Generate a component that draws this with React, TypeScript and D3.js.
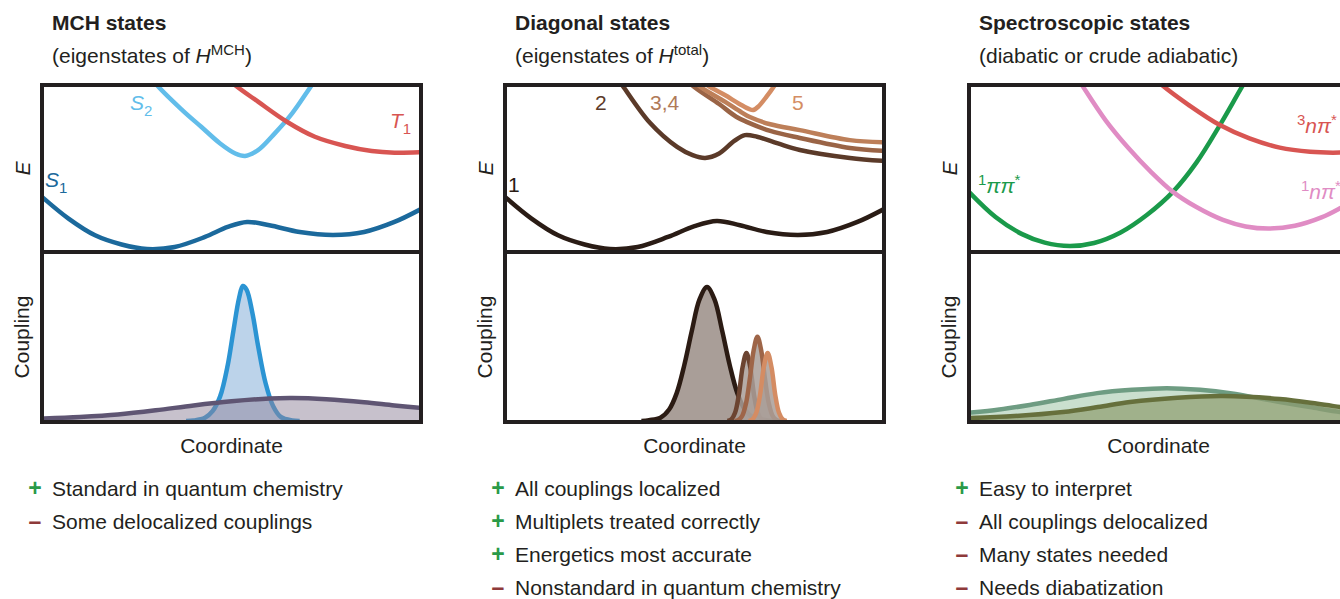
import React from "react";
import * as d3 from "d3";

type Pt = [number, number];

// panel frame (x of left border, shared width, row edges)
const PANEL_X = [42, 505, 969];
const PANEL_W = 379;
const TOP = 85;
const MID = 252;
const BOT = 422;
const FONT = "'Liberation Sans', Arial, Helvetica, sans-serif";

// ---------- MCH states ----------
const mchS1: Pt[] = [[0, 0.33], [0.07, 0.2], [0.14, 0.1], [0.21, 0.045], [0.277, 0.018], [0.35, 0.03], [0.43, 0.09], [0.49, 0.15], [0.541, 0.18], [0.6, 0.16], [0.68, 0.12], [0.768, 0.102], [0.85, 0.12], [0.93, 0.18], [1, 0.257]];
const mchS2: Pt[] = [[0.27, 1.1], [0.303, 1.0], [0.37, 0.85], [0.42, 0.75], [0.47, 0.65], [0.51, 0.59], [0.536, 0.575], [0.57, 0.61], [0.61, 0.7], [0.66, 0.83], [0.712, 1.0], [0.74, 1.09]];
const mchT1: Pt[] = [[0.48, 1.06], [0.509, 1.0], [0.57, 0.9], [0.646, 0.78], [0.72, 0.69], [0.8, 0.635], [0.87, 0.605], [0.93, 0.595], [1, 0.598]];
const mchCoupS1S2: Pt[] = [[0.38, 0], [0.4, 0.003], [0.43, 0.02], [0.45, 0.06], [0.47, 0.15], [0.49, 0.34], [0.505, 0.55], [0.52, 0.75], [0.53, 0.823], [0.54, 0.8], [0.555, 0.66], [0.57, 0.46], [0.59, 0.23], [0.61, 0.09], [0.63, 0.025], [0.66, 0.003], [0.68, 0]];
const mchCoupS1T1: Pt[] = [[0, 0.015], [0.1, 0.025], [0.2, 0.04], [0.3, 0.065], [0.4, 0.095], [0.5, 0.12], [0.6, 0.137], [0.66, 0.14], [0.75, 0.133], [0.85, 0.115], [0.93, 0.095], [1, 0.08]];

// ---------- Diagonal states ----------
const diag1: Pt[] = [[0, 0.33], [0.07, 0.2], [0.14, 0.1], [0.21, 0.045], [0.277, 0.018], [0.35, 0.03], [0.43, 0.09], [0.5, 0.155], [0.559, 0.186], [0.62, 0.16], [0.69, 0.12], [0.773, 0.102], [0.85, 0.12], [0.93, 0.18], [1, 0.257]];
const diag2: Pt[] = [[0.29, 1.06], [0.309, 1.0], [0.383, 0.772], [0.454, 0.629], [0.495, 0.58], [0.528, 0.563], [0.565, 0.59], [0.605, 0.665], [0.633, 0.7], [0.665, 0.69], [0.72, 0.65], [0.778, 0.611], [0.91, 0.563], [1, 0.545]];
const diag3: Pt[] = [[0.47, 1.06], [0.493, 1.0], [0.565, 0.886], [0.61, 0.81], [0.639, 0.778], [0.7, 0.725], [0.778, 0.683], [0.91, 0.623], [1, 0.605]];
const diag4: Pt[] = [[0.485, 1.06], [0.509, 1.0], [0.58, 0.9], [0.625, 0.835], [0.646, 0.808], [0.7, 0.765], [0.778, 0.73], [0.91, 0.67], [1, 0.657]];
const diag5: Pt[] = [[0.515, 1.04], [0.533, 1.0], [0.58, 0.94], [0.62, 0.885], [0.645, 0.855], [0.655, 0.85], [0.668, 0.87], [0.69, 0.93], [0.712, 1.0], [0.72, 1.03]];
const diagCoup12: Pt[] = [[0.36, 0], [0.38, 0.005], [0.41, 0.02], [0.433, 0.07], [0.453, 0.17], [0.473, 0.34], [0.493, 0.55], [0.513, 0.74], [0.533, 0.817], [0.553, 0.74], [0.573, 0.55], [0.593, 0.34], [0.613, 0.17], [0.633, 0.07], [0.656, 0.02], [0.69, 0.005], [0.71, 0]];
const diagCoup23: Pt[] = [[0.587, 0], [0.597, 0.01], [0.607, 0.05], [0.617, 0.16], [0.627, 0.33], [0.637, 0.415], [0.647, 0.33], [0.657, 0.16], [0.667, 0.05], [0.677, 0.01], [0.687, 0]];
const diagCoup24: Pt[] = [[0.606, 0], [0.616, 0.007], [0.626, 0.032], [0.636, 0.108], [0.646, 0.257], [0.656, 0.43], [0.666, 0.514], [0.676, 0.43], [0.686, 0.257], [0.696, 0.108], [0.706, 0.032], [0.716, 0.007], [0.726, 0]];
const diagCoup25: Pt[] = [[0.643, 0], [0.653, 0.01], [0.663, 0.05], [0.673, 0.16], [0.683, 0.33], [0.693, 0.415], [0.703, 0.33], [0.713, 0.16], [0.723, 0.05], [0.733, 0.01], [0.743, 0]];

// ---------- Spectroscopic states ----------
const specPiPi: Pt[] = [[0, 0.36], [0.07, 0.21], [0.14, 0.107], [0.2, 0.056], [0.266, 0.036], [0.33, 0.054], [0.4, 0.117], [0.47, 0.223], [0.538, 0.36], [0.6, 0.535], [0.662, 0.76], [0.723, 1.0], [0.75, 1.1]];
const specNPiS: Pt[] = [[0.27, 1.1], [0.298, 1.0], [0.36, 0.79], [0.42, 0.624], [0.48, 0.48], [0.538, 0.36], [0.6, 0.269], [0.67, 0.192], [0.73, 0.153], [0.792, 0.14], [0.86, 0.157], [0.93, 0.207], [0.979, 0.262], [1, 0.29]];
const specNPiT: Pt[] = [[0.48, 1.06], [0.509, 1.0], [0.58, 0.88], [0.662, 0.76], [0.74, 0.68], [0.82, 0.625], [0.9, 0.6], [0.96, 0.595], [1, 0.598]];
const specCoupA: Pt[] = [[0, 0.05], [0.08, 0.07], [0.16, 0.098], [0.25, 0.135], [0.338, 0.17], [0.43, 0.19], [0.522, 0.2], [0.61, 0.19], [0.689, 0.17], [0.82, 0.116], [0.9, 0.085], [0.979, 0.055], [1, 0.05]];
const specCoupB: Pt[] = [[0, 0.018], [0.12, 0.03], [0.248, 0.055], [0.34, 0.085], [0.425, 0.116], [0.55, 0.142], [0.67, 0.152], [0.82, 0.134], [0.92, 0.105], [0.979, 0.085], [1, 0.078]];

// ---------- pros / cons ----------
const mchBullets: [string, string][] = [["+", "Standard in quantum chemistry"], ["–", "Some delocalized couplings"]];
const diagBullets: [string, string][] = [["+", "All couplings localized"], ["+", "Multiplets treated correctly"], ["+", "Energetics most accurate"], ["–", "Nonstandard in quantum chemistry"]];
const specBullets: [string, string][] = [["+", "Easy to interpret"], ["–", "All couplings delocalized"], ["–", "Many states needed"], ["–", "Needs diabatization"]];

type Curve = { data: Pt[]; color: string };
type Coup = { data: Pt[]; color: string; fill: string; opacity: number };

const yE = d3.scaleLinear().domain([0, 1]).range([MID, TOP]);
const yC = d3.scaleLinear().domain([0, 1]).range([BOT - 1, 257]);

function Panel({ idx, title, subtitle, energies, couplings, labels, bullets }: {
  idx: number; title: string; subtitle: React.ReactNode; energies: Curve[]; couplings: Coup[];
  labels: React.ReactNode; bullets: [string, string][];
}) {
  const x0 = PANEL_X[idx];
  const x = d3.scaleLinear().domain([0, 1]).range([x0, x0 + PANEL_W]);
  const line = d3.line<Pt>().x(d => x(d[0])).y(d => yE(d[1])).curve(d3.curveCatmullRom.alpha(0.5));
  const cLine = d3.line<Pt>().x(d => x(d[0])).y(d => yC(d[1])).curve(d3.curveCatmullRom.alpha(0.5));
  const cArea = d3.area<Pt>().x(d => x(d[0])).y0(yC(0)).y1(d => yC(d[1])).curve(d3.curveCatmullRom.alpha(0.5));
  return (
    <g>
      <defs>
        <clipPath id={`clipE${idx}`}><rect x={x0 + 2} y={TOP + 2} width={PANEL_W - 4} height={MID - TOP - 4} /></clipPath>
        <clipPath id={`clipC${idx}`}><rect x={x0 + 2} y={MID + 2} width={PANEL_W - 4} height={BOT - MID - 4} /></clipPath>
      </defs>
      <text x={x0 + 10} y={30} fontSize={21} fontWeight="bold" fill="#231f20">{title}</text>
      <text x={x0 + 10} y={63} fontSize={21} fill="#231f20">{subtitle}</text>
      <g clipPath={`url(#clipE${idx})`}>
        {energies.map((c, i) => (
          <path key={i} d={line(c.data) || ""} fill="none" stroke={c.color} strokeWidth={4.5} />
        ))}
      </g>
      <g clipPath={`url(#clipC${idx})`}>
        {couplings.map((c, i) => (
          <g key={i}>
            <path d={cArea(c.data) || ""} fill={c.fill} fillOpacity={c.opacity} />
            <path d={cLine(c.data) || ""} fill="none" stroke={c.color} strokeWidth={4.5} />
          </g>
        ))}
      </g>
      {labels}
      <rect x={x0} y={TOP} width={PANEL_W} height={BOT - TOP} fill="none" stroke="#231f20" strokeWidth={4} />
      <line x1={x0} x2={x0 + PANEL_W} y1={MID} y2={MID} stroke="#231f20" strokeWidth={4} />
      <text transform={`translate(${x0 - 12},${(TOP + MID) / 2}) rotate(-90)`} textAnchor="middle" fontSize={21} fontStyle="italic" fill="#231f20">E</text>
      <text transform={`translate(${x0 - 13},${(MID + BOT) / 2}) rotate(-90)`} textAnchor="middle" fontSize={21} fill="#231f20">Coupling</text>
      <text x={x0 + PANEL_W / 2} y={453} textAnchor="middle" fontSize={21} fill="#231f20">Coordinate</text>
      {bullets.map(([sign, txt], i) => (
        <g key={i}>
          <text x={x0 - 7} y={496 + i * 33} textAnchor="middle" fontSize={23} fontWeight="bold"
            fill={sign === "+" ? "#2a9a48" : "#8e3a3a"}>{sign}</text>
          <text x={x0 + 10} y={496 + i * 33} fontSize={21} fill="#231f20">{txt}</text>
        </g>
      ))}
    </g>
  );
}

export default function App() {
  const px = PANEL_X;
  return (
    <svg width={1340} height={599} style={{ position: "absolute", left: 0, top: 0, background: "#fff" }} fontFamily={FONT}>
      <Panel idx={0} title="MCH states"
        subtitle={<>(eigenstates of <tspan fontStyle="italic">H</tspan><tspan fontSize={15} dy={-8}>MCH</tspan><tspan dy={8}>)</tspan></>}
        energies={[{ data: mchS1, color: "#1b699c" }, { data: mchS2, color: "#62bdea" }, { data: mchT1, color: "#d85552" }]}
        couplings={[
          { data: mchCoupS1S2, color: "#2b94d3", fill: "#bcd3ea", opacity: 1 },
          { data: mchCoupS1T1, color: "#5f5573", fill: "#8f8499", opacity: 0.5 },
        ]}
        labels={<g fontSize={21}>
          <text x={px[0] + 88} y={110} fill="#62bdea"><tspan fontStyle="italic">S</tspan><tspan fontSize={15} dy={6}>2</tspan></text>
          <text x={px[0] + 348} y={128} fill="#d85552"><tspan fontStyle="italic">T</tspan><tspan fontSize={15} dy={6}>1</tspan></text>
          <text x={px[0] + 3} y={187} fill="#1b699c"><tspan fontStyle="italic">S</tspan><tspan fontSize={15} dy={6}>1</tspan></text>
        </g>}
        bullets={mchBullets} />
      <Panel idx={1} title="Diagonal states"
        subtitle={<>(eigenstates of <tspan fontStyle="italic">H</tspan><tspan fontSize={15} dy={-8}>total</tspan><tspan dy={8}>)</tspan></>}
        energies={[{ data: diag1, color: "#2a1c15" }, { data: diag2, color: "#5b3a29" }, { data: diag3, color: "#9a6446" }, { data: diag4, color: "#bd7f59" }, { data: diag5, color: "#d48d64" }]}
        couplings={[
          { data: diagCoup12, color: "#2b1b13", fill: "#a99e98", opacity: 1 },
          { data: diagCoup23, color: "#6c4431", fill: "#a99e98", opacity: 0.85 },
          { data: diagCoup24, color: "#9e6548", fill: "#a99e98", opacity: 0.85 },
          { data: diagCoup25, color: "#d48c63", fill: "#a99e98", opacity: 0.85 },
        ]}
        labels={<g fontSize={21}>
          <text x={px[1] + 3} y={192} fill="#2a1c15">1</text>
          <text x={px[1] + 90} y={110} fill="#5b3a29">2</text>
          <text x={px[1] + 145} y={110} fill="#b07a58">3,4</text>
          <text x={px[1] + 287} y={110} fill="#d48d64">5</text>
        </g>}
        bullets={diagBullets} />
      <Panel idx={2} title="Spectroscopic states"
        subtitle={<>(diabatic or crude adiabatic)</>}
        energies={[{ data: specPiPi, color: "#1a9a4a" }, { data: specNPiS, color: "#e08cc4" }, { data: specNPiT, color: "#d85552" }]}
        couplings={[
          { data: specCoupA, color: "#6e9c82", fill: "#cadfce", opacity: 1 },
          { data: specCoupB, color: "#66703c", fill: "#8f9c6f", opacity: 0.7 },
        ]}
        labels={<g fontSize={21}>
          <text x={px[2] + 9} y={193} fill="#1a9a4a"><tspan fontSize={15} dy={-8}>1</tspan><tspan fontStyle="italic" dy={8}>ππ</tspan><tspan fontSize={15} dy={-8}>*</tspan></text>
          <text x={px[2] + 328} y={133} fill="#d85552"><tspan fontSize={15} dy={-8}>3</tspan><tspan fontStyle="italic" dy={8}>nπ</tspan><tspan fontSize={15} dy={-8}>*</tspan></text>
          <text x={px[2] + 332} y={199} fill="#e08cc4"><tspan fontSize={15} dy={-8}>1</tspan><tspan fontStyle="italic" dy={8}>nπ</tspan><tspan fontSize={15} dy={-8}>*</tspan></text>
        </g>}
        bullets={specBullets} />
    </svg>
  );
}
